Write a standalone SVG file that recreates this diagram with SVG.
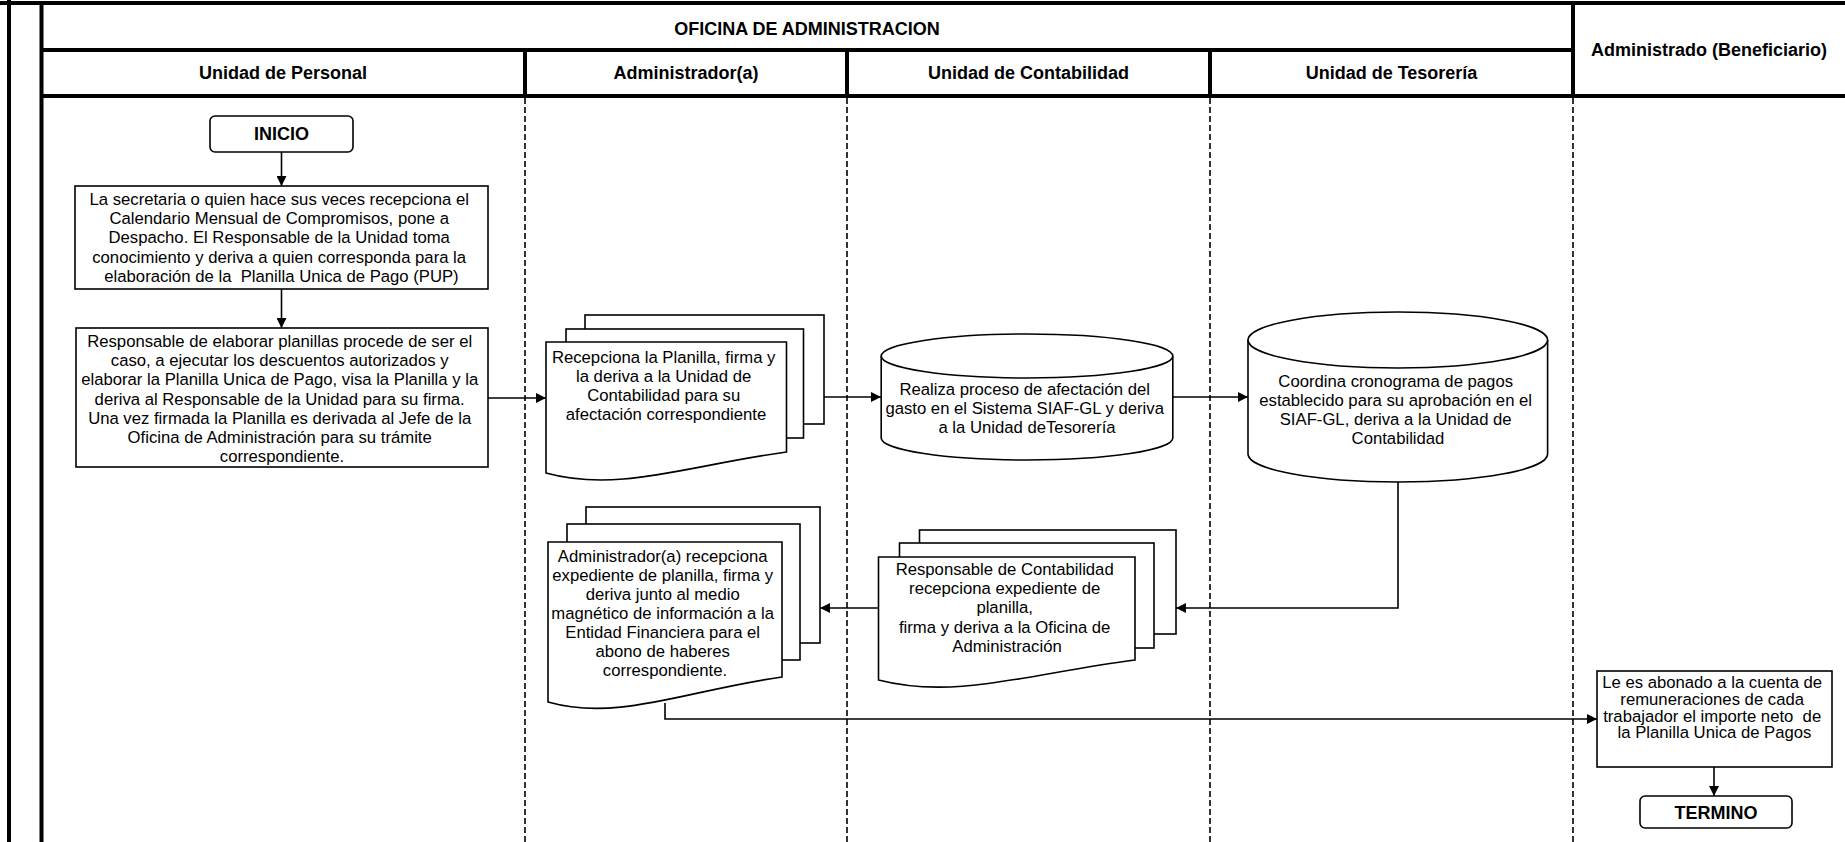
<svg xmlns="http://www.w3.org/2000/svg" width="1845" height="842" viewBox="0 0 1845 842">
  <style>
    .hdr { font: bold 18px "Liberation Sans", Arial, sans-serif; text-anchor: middle; fill: #000; }
    .t { font: 16.7px "Liberation Sans", Arial, sans-serif; text-anchor: middle; fill: #000; }
    .term { font: bold 18px "Liberation Sans", Arial, sans-serif; text-anchor: middle; fill: #000; }
    .frame { stroke: #000; stroke-width: 4; fill: none; }
    .lane { stroke: #000; stroke-width: 1.6; stroke-dasharray: 6 3; fill: none; }
    .shape { stroke: #000; stroke-width: 1.6; fill: #fff; }
    .edge { stroke: #000; stroke-width: 1.6; fill: none; marker-end: url(#arrow); }
    .pre { white-space: pre; }
  </style>
  <defs>
    <marker id="arrow" viewBox="0 0 10 10" refX="10" refY="5" markerUnits="userSpaceOnUse" markerWidth="11" markerHeight="10" orient="auto">
      <path d="M0,0 L10,5 L0,10 Z" fill="#000"/>
    </marker>
  </defs>

  <rect width="1845" height="842" fill="#fff"/>

  <!-- swimlane frame and headers -->
  <g id="swimlanes">
    <line class="frame" x1="0" y1="3" x2="1845" y2="3"/>
    <line class="frame" x1="9" y1="0" x2="9" y2="842"/>
    <line class="frame" x1="41.5" y1="3" x2="41.5" y2="842"/>
    <line class="frame" x1="41.5" y1="50" x2="1573" y2="50"/>
    <line class="frame" x1="41.5" y1="96" x2="1845" y2="96"/>
    <line class="frame" x1="525" y1="50" x2="525" y2="96"/>
    <line class="frame" x1="847" y1="50" x2="847" y2="96"/>
    <line class="frame" x1="1210" y1="50" x2="1210" y2="96"/>
    <line class="frame" x1="1573" y1="3" x2="1573" y2="96"/>
    <line class="lane" x1="525" y1="98" x2="525" y2="842"/>
    <line class="lane" x1="847" y1="98" x2="847" y2="842"/>
    <line class="lane" x1="1210" y1="98" x2="1210" y2="842"/>
    <line class="lane" x1="1573" y1="98" x2="1573" y2="842"/>
    <text class="hdr" x="807" y="34.5">OFICINA DE ADMINISTRACION</text>
    <text class="hdr" x="283" y="79">Unidad de Personal</text>
    <text class="hdr" x="686" y="79">Administrador(a)</text>
    <text class="hdr" x="1028.5" y="79">Unidad de Contabilidad</text>
    <text class="hdr" x="1391.5" y="79">Unidad de Tesorería</text>
    <text class="hdr" x="1709" y="56">Administrado (Beneficiario)</text>
  </g>

  <!-- connectors -->
  <g id="connectors">
    <line class="edge" x1="281.5" y1="152" x2="281.5" y2="186"/>
    <line class="edge" x1="281.5" y1="289" x2="281.5" y2="328"/>
    <line class="edge" x1="488" y1="398" x2="546" y2="398"/>
    <line class="edge" x1="824" y1="397" x2="881" y2="397"/>
    <line class="edge" x1="1172.8" y1="397" x2="1248" y2="397"/>
    <polyline class="edge" points="1398,482 1398,608 1176,608"/>
    <line class="edge" x1="878.5" y1="608" x2="820" y2="608"/>
    <polyline class="edge" points="665,703 665,719 1597,719"/>
    <line class="edge" x1="1714" y1="767" x2="1714" y2="796"/>
  </g>

  <!-- start terminator -->
  <g id="inicio">
    <rect class="shape" x="210" y="116" width="143" height="36" rx="5"/>
    <text class="term" x="281.5" y="140">INICIO</text>
  </g>

  <!-- process: receive monthly calendar -->
  <g id="recepcion-calendario">
    <rect class="shape" x="75" y="186" width="413" height="103"/>
    <text class="t">
      <tspan x="281.5" y="205">La secretaria o quien hace sus veces recepciona el</tspan>
      <tspan x="281.5" y="224.2">Calendario Mensual de Compromisos, pone a</tspan>
      <tspan x="281.5" y="243.4">Despacho. El Responsable de la Unidad toma</tspan>
      <tspan x="281.5" y="262.6">conocimiento y deriva a quien corresponda para la</tspan>
      <tspan class="pre" x="281.5" y="281.8">elaboración de la  Planilla Unica de Pago (PUP)</tspan>
    </text>
  </g>

  <!-- process: prepare payroll -->
  <g id="elaborar-planilla">
    <rect class="shape" x="76" y="328" width="412" height="139"/>
    <text class="t">
      <tspan x="282" y="347">Responsable de elaborar planillas procede de ser el</tspan>
      <tspan x="282" y="366.2">caso, a ejecutar los descuentos autorizados y</tspan>
      <tspan x="282" y="385.4">elaborar la Planilla Unica de Pago, visa la Planilla y la</tspan>
      <tspan x="282" y="404.6">deriva al Responsable de la Unidad para su firma.</tspan>
      <tspan x="282" y="423.8">Una vez firmada la Planilla es derivada al Jefe de la</tspan>
      <tspan x="282" y="443">Oficina de Administración para su trámite</tspan>
      <tspan x="282" y="462.2">correspondiente.</tspan>
    </text>
  </g>

  <!-- multi-document: administrator receives payroll -->
  <g id="recepciona-planilla">
    <rect class="shape" x="585" y="315" width="239" height="109"/>
    <rect class="shape" x="566" y="329" width="237.5" height="109"/>
    <path class="shape" d="M546,342 H786.5 V452 C690,465 618,493 546,473 Z"/>
    <text class="t">
      <tspan x="666" y="362.5">Recepciona la Planilla, firma y</tspan>
      <tspan x="666" y="381.6">la deriva a la Unidad de</tspan>
      <tspan x="666" y="400.7">Contabilidad para su</tspan>
      <tspan x="666" y="419.8">afectación correspondiente</tspan>
    </text>
  </g>

  <!-- stored data: SIAF-GL expense registration -->
  <g id="afectacion-gasto">
    <path class="shape" d="M881.2,356 V438 A145.8,22 0 0 0 1172.8,438 V356 A145.8,22 0 0 0 881.2,356 Z"/>
    <path class="shape" d="M881.2,356 A145.8,22 0 0 0 1172.8,356" fill="none"/>
    <text class="t">
      <tspan x="1027" y="395">Realiza proceso de afectación del</tspan>
      <tspan x="1027" y="414.2">gasto en el Sistema SIAF-GL y deriva</tspan>
      <tspan x="1027" y="433.4">a la Unidad deTesorería</tspan>
    </text>
  </g>

  <!-- stored data: payment schedule -->
  <g id="cronograma-pagos">
    <path class="shape" d="M1248,340 V454 A149.8,28 0 0 0 1547.6,454 V340 A149.8,28 0 0 0 1248,340 Z"/>
    <path class="shape" d="M1248,340 A149.8,28 0 0 0 1547.6,340" fill="none"/>
    <text class="t">
      <tspan x="1398" y="386.5">Coordina cronograma de pagos</tspan>
      <tspan x="1398" y="405.7">establecido para su aprobación en el</tspan>
      <tspan x="1398" y="424.9">SIAF-GL, deriva a la Unidad de</tspan>
      <tspan x="1398" y="444.1">Contabilidad</tspan>
    </text>
  </g>

  <!-- multi-document: accounting receives file -->
  <g id="contabilidad-recepciona">
    <rect class="shape" x="919.5" y="530" width="256.5" height="104"/>
    <rect class="shape" x="899.5" y="543" width="254.5" height="105"/>
    <path class="shape" d="M878.5,557 H1135 V660 C1032.5,673 955.5,700 878.5,680 Z"/>
    <text class="t">
      <tspan x="1007" y="575">Responsable de Contabilidad</tspan>
      <tspan x="1007" y="594.2">recepciona expediente de</tspan>
      <tspan x="1007" y="613.4">planilla,</tspan>
      <tspan x="1007" y="632.6">firma y deriva a la Oficina de</tspan>
      <tspan x="1007" y="651.8">Administración</tspan>
    </text>
  </g>

  <!-- multi-document: administrator signs and sends to bank -->
  <g id="administrador-recepciona">
    <rect class="shape" x="586" y="507" width="234" height="136"/>
    <rect class="shape" x="567" y="524" width="233" height="136"/>
    <path class="shape" d="M548,542 H782 V677 C688,690 618,722 548,702 Z"/>
    <text class="t">
      <tspan x="665" y="561.5">Administrador(a) recepciona</tspan>
      <tspan x="665" y="580.6">expediente de planilla, firma y</tspan>
      <tspan x="665" y="599.7">deriva junto al medio</tspan>
      <tspan x="665" y="618.8">magnético de información a la</tspan>
      <tspan x="665" y="637.9">Entidad Financiera para el</tspan>
      <tspan x="665" y="657">abono de haberes</tspan>
      <tspan x="665" y="676.1">correspondiente.</tspan>
    </text>
  </g>

  <!-- process: payment credited to employee -->
  <g id="abono-cuenta">
    <rect class="shape" x="1597" y="671" width="235" height="96"/>
    <text class="t">
      <tspan x="1714.5" y="688.3">Le es abonado a la cuenta de</tspan>
      <tspan x="1714.5" y="705">remuneraciones de cada</tspan>
      <tspan class="pre" x="1714.5" y="721.7">trabajador el importe neto  de</tspan>
      <tspan x="1714.5" y="738.4">la Planilla Unica de Pagos</tspan>
    </text>
  </g>

  <!-- end terminator -->
  <g id="termino">
    <rect class="shape" x="1640" y="796" width="152" height="32" rx="5"/>
    <text class="term" x="1716" y="818.5">TERMINO</text>
  </g>
</svg>
